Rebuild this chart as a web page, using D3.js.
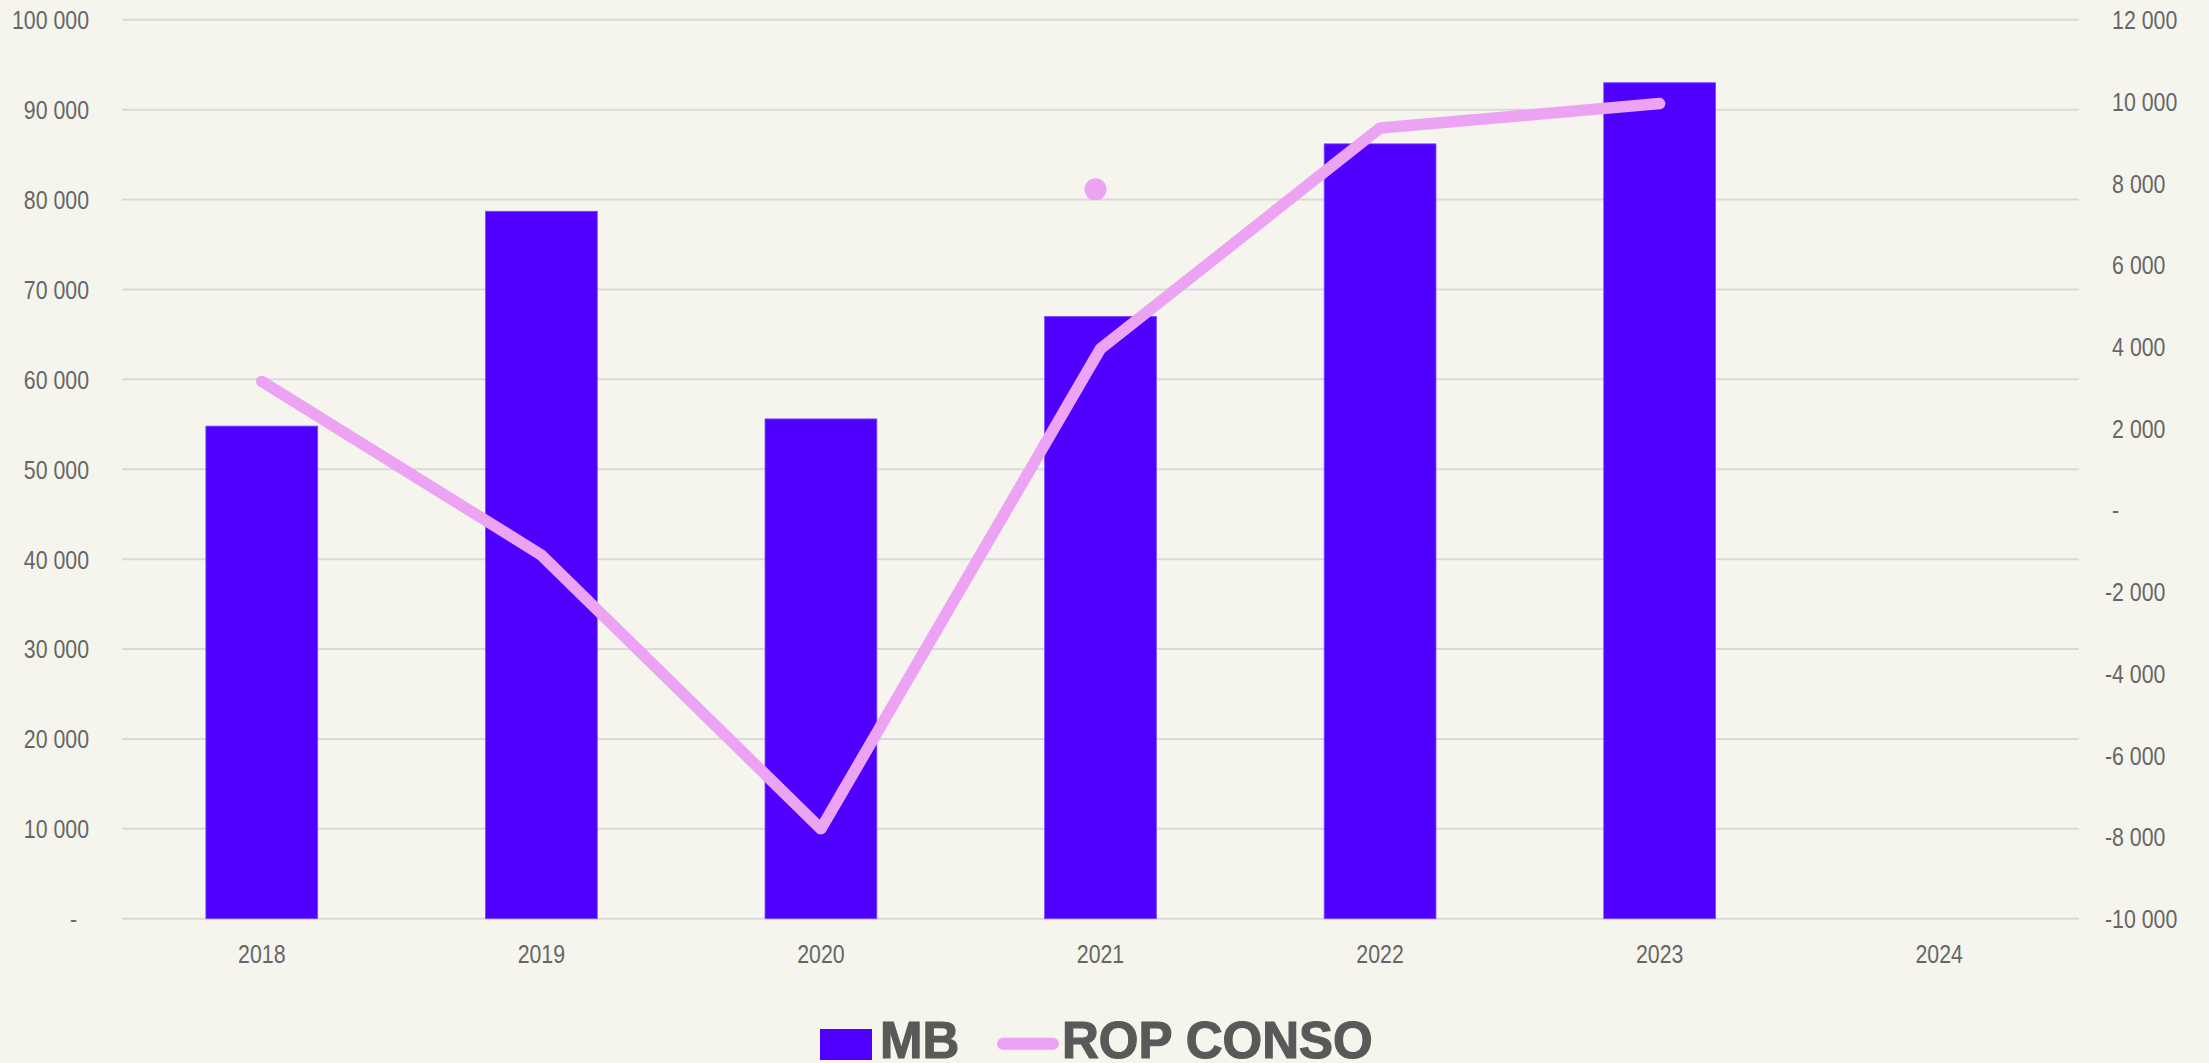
<!DOCTYPE html>
<html><head><meta charset="utf-8">
<script src="https://cdn.jsdelivr.net/npm/d3@7"></script>
<style>
html,body{margin:0;padding:0;background:#F5F5ED;}
svg{display:block;}
text{font-family:"Liberation Sans Narrow","Arial Narrow","Liberation Sans",Arial,sans-serif;}
text.leg{font-family:"Liberation Sans",Arial,sans-serif;}
</style>
</head><body>
<svg id="c" width="2209" height="1063"></svg>
<script>
// ---- data ----
const categories = ["2018","2019","2020","2021","2022","2023","2024"];
const mbValues   = [54800, 78700, 55600, 67000, 86200, 93000, null];
const ropValues  = [3150, -1100, -7800, 3950, 9350, 9950, null];
const ropMarker  = [{year:"2021", value:7850}];
const leftTicks  = [0,10000,20000,30000,40000,50000,60000,70000,80000,90000,100000];
const rightTicks = [-10000,-8000,-6000,-4000,-2000,0,2000,4000,6000,8000,10000,12000];
const seriesNames = ["MB","ROP CONSO"];

// ---- layout ----
const W = 2209, H = 1063;
const m = {left:122, right:130, top:19.8, bottom:144.3};
const barColor = "#5000FF", lineColor = "#ECA3F3", gridColor = "#D9D9D9", textColor = "#666666";
const SX = 0.82; // narrow-font emulation

const svg = d3.select("#c");
svg.append("rect").attr("width",W).attr("height",H).attr("fill","#F5F5ED");

const x = d3.scaleBand().domain(categories).range([m.left, W-m.right]).padding(0);
const yL = d3.scaleLinear().domain([0,100000]).range([H-m.bottom, m.top]);
const yR = d3.scaleLinear().domain([-10000,12000]).range([H-m.bottom, m.top]);

const loc = d3.formatLocale({decimal:",", thousands:" ", grouping:[3], currency:["",""], minus:"-"});
const fmt = loc.format(",.0f");
const tr = (px,py) => `translate(${px},${py}) scale(${SX},1)`;

// gridlines
svg.append("g").selectAll("line").data(leftTicks).join("line")
  .attr("x1", m.left).attr("x2", W-m.right)
  .attr("y1", d=>yL(d)).attr("y2", d=>yL(d))
  .attr("stroke", gridColor).attr("stroke-width", 2);

// left axis labels
svg.append("g").selectAll("text").data(leftTicks).join("text")
  .attr("transform", d=>tr(d===0 ? 77 : 89, yL(d))).attr("dy","0.36em")
  .attr("text-anchor","end").attr("font-size",26).attr("fill",textColor)
  .text(d=> d===0 ? "-" : fmt(d));

// right axis labels
const rg = svg.append("g");
rightTicks.forEach(d=>{
  const t = rg.append("text").attr("transform", tr(2105, yR(d))).attr("dy","0.36em")
    .attr("text-anchor","start").attr("font-size",26).attr("fill",textColor);
  if (d >= 0) t.append("tspan").attr("fill-opacity",0).text("-");
  t.append("tspan").text(d===0 ? "-" : fmt(d));
});

// x labels
svg.append("g").selectAll("text").data(categories).join("text")
  .attr("transform", d=>tr(x(d)+x.bandwidth()/2, 963))
  .attr("text-anchor","middle").attr("font-size",26).attr("fill",textColor)
  .text(d=>d);

// bars
const barW = x.bandwidth()*0.4;
const barData = categories.map((c,i)=>({c, v:mbValues[i]})).filter(d=>d.v!=null);
svg.append("g").selectAll("rect").data(barData).join("rect")
  .attr("x", d=>x(d.c)+x.bandwidth()/2-barW/2).attr("width", barW)
  .attr("y", d=>yL(d.v)).attr("height", d=>yL(0)-yL(d.v))
  .attr("fill", barColor).attr("stroke","#7A4DFF").attr("stroke-width",0.8);

// line
const lineData = categories.map((c,i)=>({c, v:ropValues[i]})).filter(d=>d.v!=null);
const line = d3.line().x(d=>x(d.c)+x.bandwidth()/2).y(d=>yR(d.v));
svg.append("path").datum(lineData).attr("d", line)
  .attr("fill","none").attr("stroke", lineColor).attr("stroke-width", 11.5)
  .attr("stroke-linecap","round").attr("stroke-linejoin","round");

// isolated marker
svg.append("g").selectAll("circle").data(ropMarker).join("circle")
  .attr("cx", d=>x(d.year)+x.bandwidth()/2-5).attr("cy", d=>yR(d.value))
  .attr("r", 11).attr("fill", lineColor);

// legend
const lg = svg.append("g");
lg.append("rect").attr("x",820).attr("y",1029).attr("width",52).attr("height",31).attr("fill",barColor);
lg.append("text").attr("class","leg").attr("x",880).attr("y",1058).attr("font-size",51).attr("font-weight","bold")
  .attr("fill","#595959").attr("stroke","#595959").attr("stroke-width",1.2).text(seriesNames[0]);
lg.append("line").attr("x1",1003).attr("x2",1053).attr("y1",1043.7).attr("y2",1043.7)
  .attr("stroke",lineColor).attr("stroke-width",12).attr("stroke-linecap","round");
lg.append("text").attr("class","leg").attr("x",1062).attr("y",1058).attr("font-size",51).attr("font-weight","bold")
  .attr("fill","#595959").attr("stroke","#595959").attr("stroke-width",1.2).text(seriesNames[1]);
</script>
</body></html>
